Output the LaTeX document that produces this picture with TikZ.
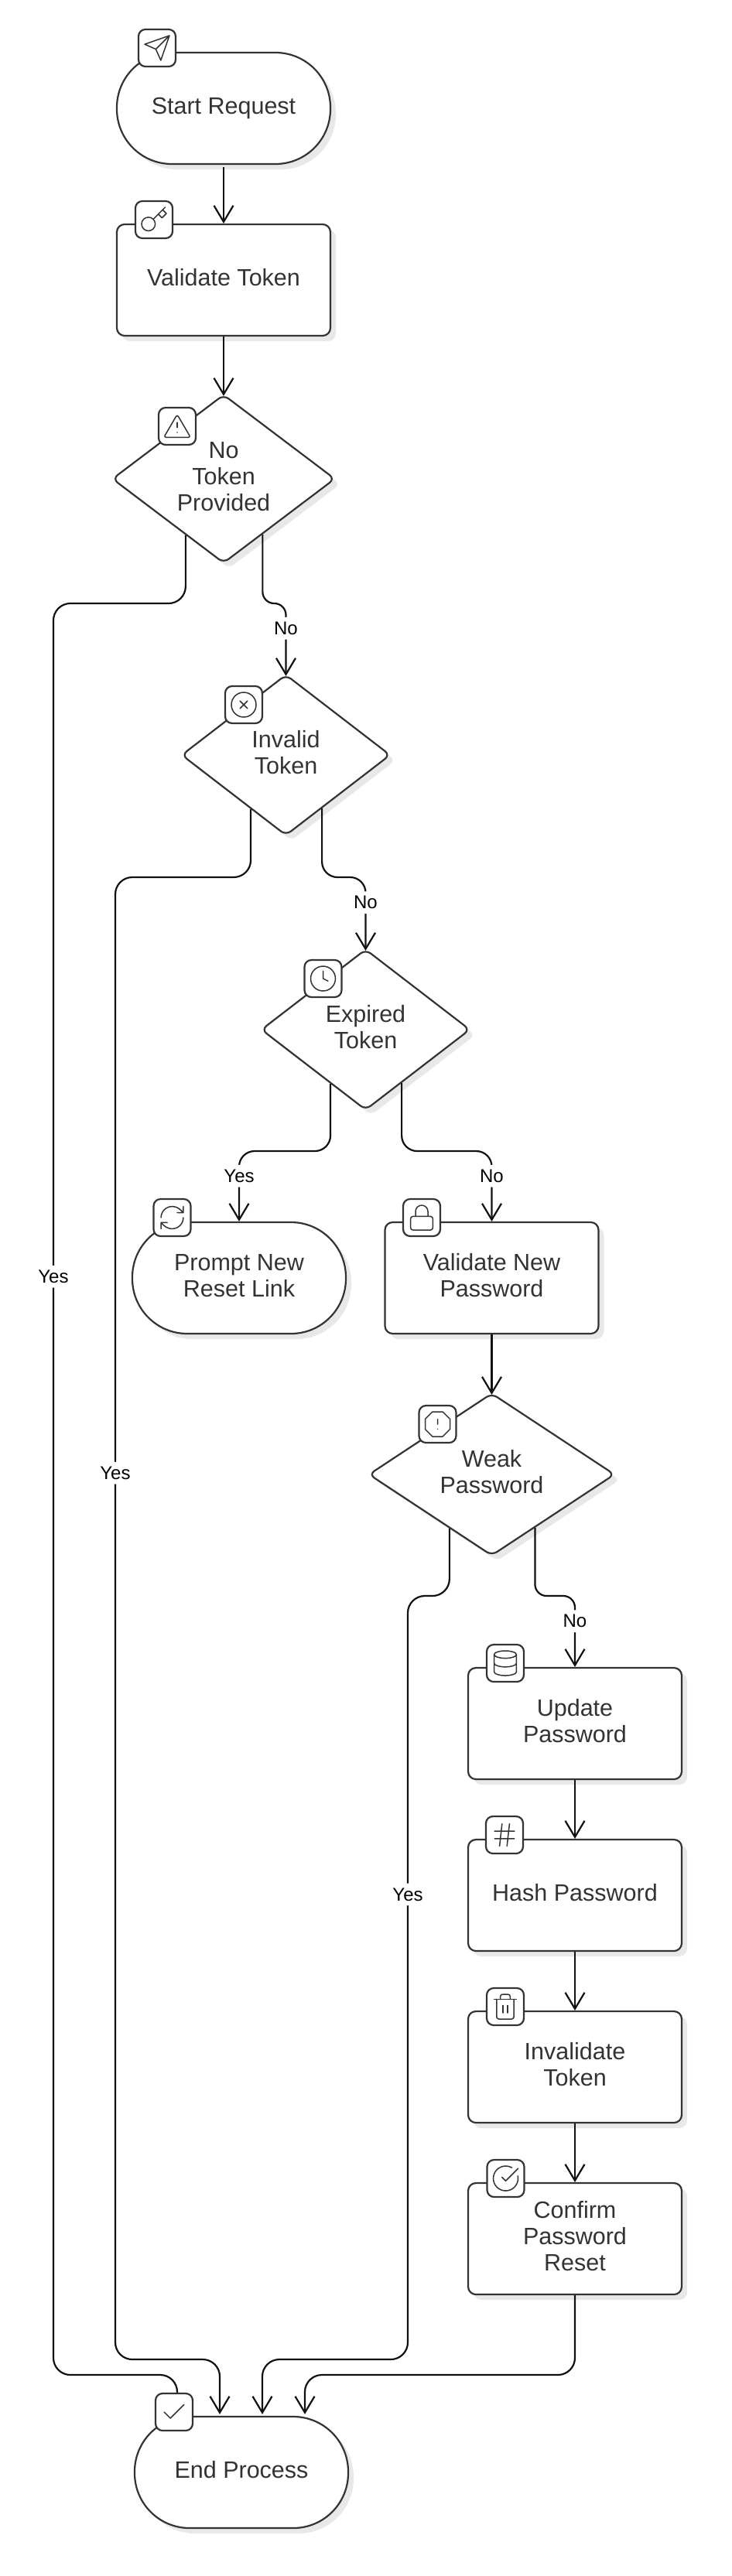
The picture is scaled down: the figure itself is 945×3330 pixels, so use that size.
\documentclass[tikz,border=0pt]{standalone}
\usepackage{fontspec}
\setmainfont{Liberation Sans}
\usetikzlibrary{shapes.geometric,calc,arrows.meta,positioning,shadows}
\definecolor{inkgray}{HTML}{333333}
\definecolor{edgeink}{HTML}{111111}
\definecolor{shadegray}{HTML}{E8E8E8}

\tikzset{
    softshadow/.style={drop shadow={shadow xshift=7pt,shadow yshift=-7pt,fill=shadegray,opacity=1}},
    basenode/.style={draw=inkgray, line width=2.2pt, fill=white, softshadow, text=inkgray, align=center, inner sep=0pt,
        text depth=6.5pt, font=\fontsize{30.5}{34}\selectfont},
    stadium/.style={basenode, rectangle, rounded corners=71pt, minimum width=276pt, minimum height=144pt},
    taskbox/.style={basenode, rectangle, rounded corners=10pt, minimum width=276pt, minimum height=144pt},
    decision/.style={basenode, diamond, rounded corners=8pt, aspect=1.33, minimum width=270pt, minimum height=208pt},
    iconbox/.style={draw=inkgray, line width=2.2pt, fill=white, rectangle, rounded corners=9pt, minimum size=48pt, inner sep=0pt},
    flow/.style={draw=edgeink, line width=2.2pt, -{Straight Barb[length=21pt,width=25pt,line width=2.2pt]}},
    flowlabel/.style={fill=white, text=black, inner xsep=2pt, inner ysep=6pt, pos=.355, font=\fontsize{24}{24}\selectfont},
    glyph/.style={x=1.6pt,y=-1.6pt,shift={(-12,-12)}},
    glyphline/.style={draw=inkgray,line width=1.5pt,line cap=round,line join=round},
    sendglyph/.pic={\draw[glyphline] (22,2) -- (15,22) -- (11,13) -- (2,9) -- cycle (22,2) -- (11,13);},
    keyglyph/.pic={\draw[glyphline] (7.5,15.5) circle[radius=5.5] (21,2) -- (11.4,11.6) (15.5,7.5) -- (18.5,10.5) -- (22,7) -- (19,4);},
    alertglyph/.pic={\draw[glyphline,rounded corners=3pt] (12,2.5) -- (22.8,21) -- (1.2,21) -- cycle;
        \draw[glyphline] (12,9) -- (12,13) (12,17) -- (12.01,17);},
    crossglyph/.pic={\draw[glyphline] (12,12) circle[radius=10] (15,9) -- (9,15) (9,9) -- (15,15);},
    clockglyph/.pic={\draw[glyphline] (12,12) circle[radius=10] (12,6) -- (12,12) -- (16,14);},
    refreshglyph/.pic={\draw[glyphline] (3,12) arc[start angle=180,end angle=270,radius=9] .. controls (14.5,3) and (16.9,4) .. (18.74,5.74) -- (21,8)
        (21,3) -- (21,8) -- (16,8)
        (21,12) arc[start angle=0,end angle=90,radius=9] .. controls (9.5,21) and (7.1,20) .. (5.26,18.26) -- (3,16)
        (8,16) -- (3,16) -- (3,21);},
    lockglyph/.pic={\draw[glyphline,rounded corners=3pt] (3,11) rectangle (21,22);
        \draw[glyphline] (7,11) -- (7,7) arc[start angle=180,end angle=360,radius=5] -- (17,11);},
    octagonglyph/.pic={\draw[glyphline] (7.86,2) -- (16.14,2) -- (22,7.86) -- (22,16.14) -- (16.14,22) -- (7.86,22) -- (2,16.14) -- (2,7.86) -- cycle
        (12,8) -- (12,12) (12,16) -- (12.01,16);},
    databaseglyph/.pic={\draw[glyphline] (12,5) ellipse[x radius=9,y radius=3]
        (3,5) -- (3,19) arc[start angle=180,end angle=0,x radius=9,y radius=3] -- (21,5)
        (3,12) arc[start angle=180,end angle=0,x radius=9,y radius=3];},
    hashglyph/.pic={\draw[glyphline] (4,9) -- (20,9) (4,15) -- (20,15) (10,3) -- (8,21) (16,3) -- (14,21);},
    trashglyph/.pic={\draw[glyphline] (3,6) -- (21,6) (10,11) -- (10,17) (14,11) -- (14,17);
        \draw[glyphline,rounded corners=3pt] (19,6) -- (19,22) -- (5,22) -- (5,6) (8,6) -- (8,2) -- (16,2) -- (16,6);},
    confirmglyph/.pic={\draw[glyphline] (21.8,10) arc[start angle=-11.5,end angle=300,radius=10] (9,11) -- (12,14) -- (22,4);},
    checkglyph/.pic={\draw[glyphline] (20,6) -- (9,17) -- (4,12);}
}

\begin{document}
\begin{tikzpicture}[x=1pt,y=-1pt]
    \useasboundingbox (0,0) rectangle (945,3330);

    % flow nodes
    \node[stadium] (startRequest) at (289,140) {Start Request};
    \node[taskbox] (validateToken) at (289,362) {Validate Token};
    \node[decision, minimum width=288pt, minimum height=218pt] (noToken) at (289,619) {No\\Token\\Provided};
    \node[decision] (invalidToken) at (369.5,976) {Invalid\\Token};
    \node[decision] (expiredToken) at (472.5,1331) {Expired\\Token};
    \node[stadium] (promptReset) at (309,1652) {Prompt New\\Reset Link};
    \node[taskbox] (validatePassword) at (635.5,1652) {Validate New\\Password};
    \node[decision, aspect=1.5, minimum width=318pt, minimum height=210pt] (weakPassword) at (635.5,1906) {Weak\\Password};
    \node[taskbox] (updatePassword) at (743,2228) {Update\\Password};
    \node[taskbox] (hashPassword) at (743,2450) {Hash Password};
    \node[taskbox] (invalidateToken) at (743,2672) {Invalidate\\Token};
    \node[taskbox] (confirmReset) at (743,2894) {Confirm\\Password\\Reset};
    \node[stadium] (endProcess) at (312,3196) {End Process};

    % straight steps
    \draw[flow, shorten <=3pt] (startRequest) -- (validateToken);
    \draw[flow, shorten >=-3pt] (validateToken) -- (noToken);
    \draw[flow, shorten >=-3pt] (validatePassword) -- (weakPassword);
    \draw[flow] (updatePassword) -- (hashPassword);
    \draw[flow] (hashPassword) -- (invalidateToken);
    \draw[flow] (invalidateToken) -- (confirmReset);

    % branches going on
    \draw[flow, rounded corners=15pt, shorten >=-3pt] (noToken.-55.7) |- (369.5,780) -- node[flowlabel] (noLabelA) {No} (invalidToken.north);
    \draw[flow, rounded corners=20pt, shorten >=-3pt] (invalidToken.-56.2) |- (472.5,1134) -- node[flowlabel] (noLabelB) {No} (expiredToken.north);
    \draw[flow, rounded corners=20pt] (expiredToken.-123.8) |- (309,1488) -- node[flowlabel] (yesLabelC) {Yes} (promptReset.north);
    \draw[flow, rounded corners=20pt] (expiredToken.-56.2) |- (635.5,1488) -- node[flowlabel] (noLabelC) {No} (validatePassword.north);
    \draw[flow, rounded corners=15pt] (weakPassword.-51.3) |- (743,2063) -- node[flowlabel] (noLabelD) {No} (updatePassword.north);

    % branches running down to the end
    \draw[flow, rounded corners=22pt] (noToken.-124.3) |- (69,780) -- node[flowlabel, pos=.38] (yesLabelA) {Yes} (69,3070) -| ([xshift=-83pt]endProcess.north);
    \draw[flow, rounded corners=22pt, shorten >=2pt] (invalidToken.-123.8) |- (149,1134) -- node[flowlabel, pos=.402] (yesLabelB) {Yes} (149,3050) -| ([xshift=-28pt]endProcess.north);
    \draw[flow, rounded corners=22pt, shorten >=2pt] (weakPassword.-128.7) |- (527,2063) -- node[flowlabel, pos=.391] (yesLabelD) {Yes} (527,3050) -| ([xshift=27pt]endProcess.north);
    \draw[flow, rounded corners=22pt, shorten >=2pt] (confirmReset) |- (394,3070) -- ([xshift=82pt]endProcess.north);

    % icon badges
    \node[iconbox] (startIcon) at (203,62) {};
    \node[iconbox] (keyIcon) at (199,284) {};
    \node[iconbox] (noTokenIcon) at (229,551) {};
    \node[iconbox] (invalidIcon) at (315,911) {};
    \node[iconbox] (expiredIcon) at (417.5,1265) {};
    \node[iconbox] (promptIcon) at (222.5,1574) {};
    \node[iconbox] (validateIcon) at (545,1574) {};
    \node[iconbox] (weakIcon) at (565.5,1841) {};
    \node[iconbox] (updateIcon) at (653,2150) {};
    \node[iconbox] (hashIcon) at (652,2372) {};
    \node[iconbox] (trashIcon) at (653,2594) {};
    \node[iconbox] (confirmIcon) at (653.5,2816) {};
    \node[iconbox] (endIcon) at (225,3118) {};

    \pic[glyph] at (startIcon) {sendglyph};
    \pic[glyph] at (keyIcon) {keyglyph};
    \pic[glyph] at (noTokenIcon) {alertglyph};
    \pic[glyph] at (invalidIcon) {crossglyph};
    \pic[glyph] at (expiredIcon) {clockglyph};
    \pic[glyph] at (promptIcon) {refreshglyph};
    \pic[glyph] at (validateIcon) {lockglyph};
    \pic[glyph] at (weakIcon) {octagonglyph};
    \pic[glyph] at (updateIcon) {databaseglyph};
    \pic[glyph] at (hashIcon) {hashglyph};
    \pic[glyph] at (trashIcon) {trashglyph};
    \pic[glyph] at (confirmIcon) {confirmglyph};
    \pic[glyph] at (endIcon) {checkglyph};
\end{tikzpicture}
\end{document}
